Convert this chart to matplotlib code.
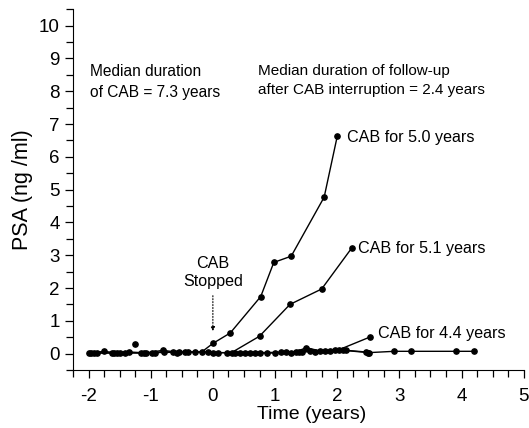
import numpy as np
import matplotlib
matplotlib.use("Agg")
import matplotlib.pyplot as plt
from matplotlib.ticker import MultipleLocator

plt.rcParams['font.family'] = ['Liberation Sans', 'DejaVu Sans']
plt.rcParams['axes.unicode_minus'] = False

# Paciente con CAB 5.0 años
a_x = [-2.0, -1.86, -1.63, -1.42, -1.11, -0.93, -0.64, -0.40, -0.18, 0.0, 0.28, 0.77, 0.98, 1.26, 1.79, 2.0]
a_y = [0.02, 0.02, 0.02, 0.03, 0.02, 0.03, 0.04, 0.04, 0.05, 0.31, 0.63, 1.74, 2.78, 2.97, 4.77, 6.62]
# Paciente con CAB 5.1 años
b_x = [-1.96, -1.75, -1.55, -1.35, -1.07, -0.81, -0.55, -0.29, 0.01, 0.30, 0.75, 1.24, 1.75, 2.23]
b_y = [0.02, 0.07, 0.02, 0.05, 0.02, 0.10, 0.04, 0.05, 0.03, 0.03, 0.53, 1.50, 1.97, 3.21]
# Paciente con CAB 4.4 años
c_x = [-1.91, -1.59, -1.50, -1.15, -0.98, -0.78, -0.58, -0.45, -0.08, 0.09, 0.36, 0.60, 0.87, 1.09, 1.33, 1.50, 1.73, 1.97, 2.03, 2.52]
c_y = [0.02, 0.02, 0.02, 0.02, 0.03, 0.06, 0.03, 0.04, 0.05, 0.03, 0.02, 0.03, 0.03, 0.04, 0.05, 0.18, 0.08, 0.10, 0.12, 0.50]
# Otros pacientes (seguimiento largo)
d_x = [0.22, 0.44, 0.68, 1.0, 1.17, 1.38, 1.57, 1.81, 2.14, 2.46, 2.51, 2.92, 3.19, 3.91, 4.20]
d_y = [0.02, 0.02, 0.03, 0.03, 0.04, 0.06, 0.08, 0.07, 0.10, 0.05, 0.03, 0.07, 0.07, 0.07, 0.07]
e_x = [0.52, 0.76, 1.25, 1.44, 1.65, 1.89, 2.10, 2.50]
e_y = [0.02, 0.02, 0.03, 0.05, 0.06, 0.08, 0.10, 0.03]
# Punto aislado
f_x = [-1.25]
f_y = [0.30]

fig = plt.figure(figsize=(5.29, 4.28), dpi=100)
ax = fig.add_axes([0.138, 0.1355, 0.852, 0.843])

for xs, ys in [(a_x, a_y), (b_x, b_y), (c_x, c_y), (d_x, d_y), (e_x, e_y), (f_x, f_y)]:
    ax.plot(xs, ys, color='black', linewidth=1.0, marker='o', markersize=3.8)

ax.set_xlim(-2.25, 5)
ax.set_ylim(-0.5, 10.5)
ax.xaxis.set_major_locator(MultipleLocator(1))
ax.xaxis.set_minor_locator(MultipleLocator(0.25))
ax.yaxis.set_major_locator(MultipleLocator(1))
ax.yaxis.set_minor_locator(MultipleLocator(0.5))
ax.spines['top'].set_visible(False)
ax.spines['right'].set_visible(False)
ax.tick_params(which='both', direction='out', length=6, width=0.9, labelsize=13.5)
ax.tick_params(axis='x', which='major', pad=7)
ax.tick_params(which='minor', length=5)

ax.set_xlabel('Time (years)', fontsize=14)
ax.xaxis.set_label_coords(0.53, -0.1)
ax.set_ylabel('PSA (ng /ml)', fontsize=15.5, labelpad=4)

#Se ponen los textos
ax.text(-1.98, 8.82, 'Median duration\nof CAB = 7.3 years', fontsize=11.2, va='top', ha='left', linespacing=1.45)
ax.text(0.72, 8.82, 'Median duration of follow-up\nafter CAB interruption = 2.4 years', fontsize=11, va='top', ha='left', linespacing=1.45)
ax.text(2.15, 6.6, 'CAB for 5.0 years', fontsize=11.6, va='center', ha='left')
ax.text(2.34, 3.2, 'CAB for 5.1 years', fontsize=11.6, va='center', ha='left')
ax.text(2.65, 0.6, 'CAB for 4.4 years', fontsize=11.6, va='center', ha='left')
ax.text(0.0, 2.47, 'CAB\nStopped', fontsize=11.6, va='center', ha='center', linespacing=1.3)
ax.annotate('', xy=(0.0, 0.6), xytext=(0.0, 1.85),
            arrowprops=dict(arrowstyle='-|>', linestyle=':', color='black', lw=0.8, mutation_scale=6))

fig.savefig('out.png', dpi=100)
